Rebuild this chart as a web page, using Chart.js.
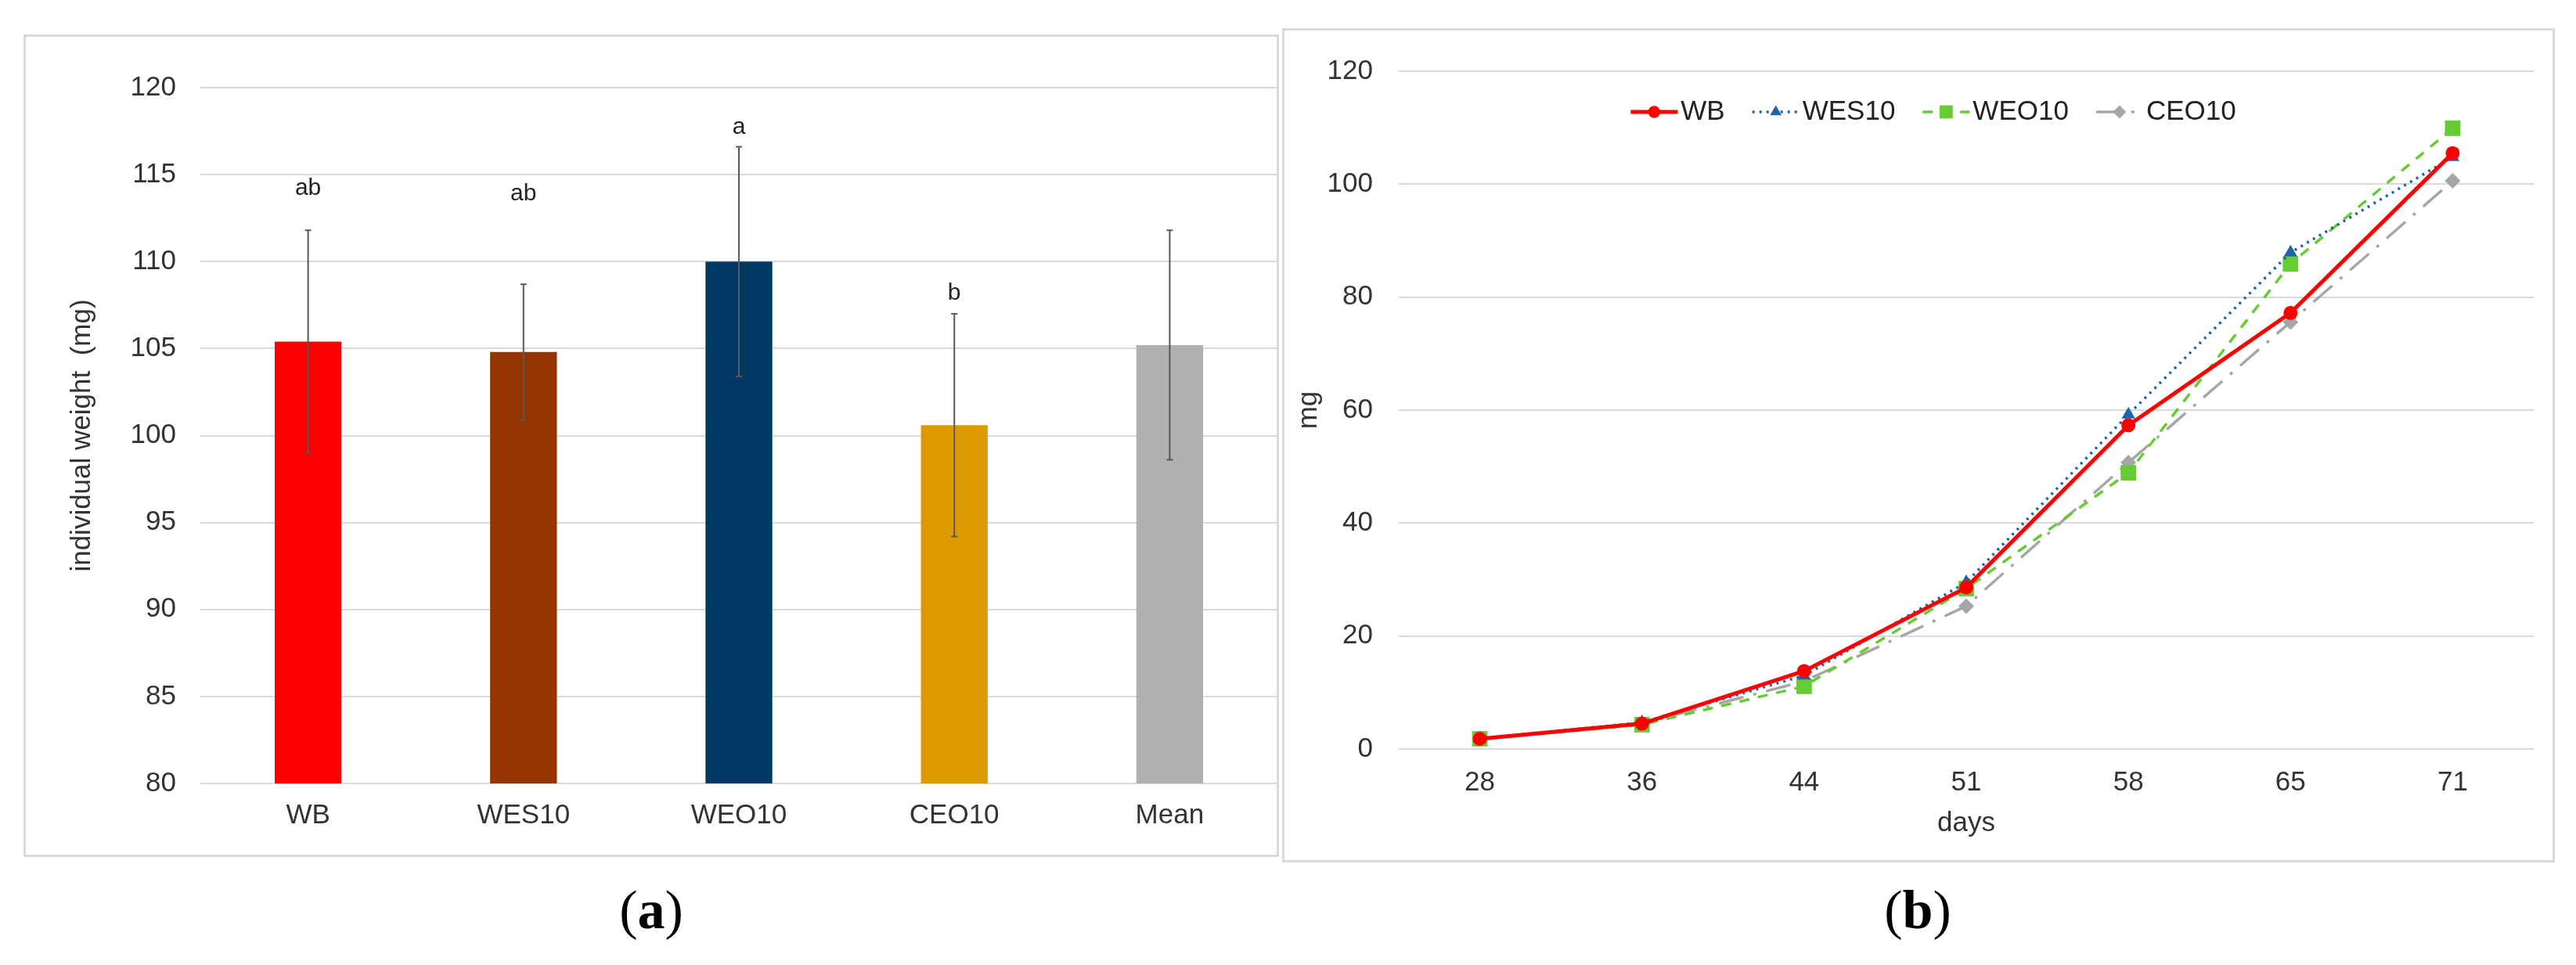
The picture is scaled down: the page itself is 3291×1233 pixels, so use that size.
<!DOCTYPE html>
<html>
<head>
<meta charset="utf-8">
<script src="https://cdn.jsdelivr.net/npm/chart.js@4.4.0/dist/chart.umd.min.js"></script>
<style>
html, body { margin:0; padding:0; background:#fff; }
body { width:3291px; height:1233px; position:relative; overflow:hidden; }
.frame { position:absolute; border:3px solid #d9d9d9; box-sizing:border-box; }
canvas { position:absolute; }
.cap { position:absolute; font-family:"Liberation Serif","Times New Roman",serif; font-size:70px; color:#000;
       transform:translate(-50%,-50%); white-space:nowrap; }
</style>
</head>
<body>
<div class="frame" style="left:30px;top:44px;width:1604px;height:1051px"></div>
<div class="frame" style="left:1638px;top:36px;width:1626px;height:1066px"></div>
<canvas id="barChart" style="left:31px;top:45px;width:1601px;height:1048px" width="1601" height="1048"></canvas>
<canvas id="lineChart" style="left:1640px;top:37px;width:1622px;height:1063px" width="1622" height="1063"></canvas>
<div class="cap" style="left:832px;top:1163px">(<b>a</b>)</div>
<div class="cap" style="left:2450px;top:1163px">(<b>b</b>)</div>

<script>
// panel (a): individual weight per diet
const groups = ['WB', 'WES10', 'WEO10', 'CEO10', 'Mean'];
const weight = [105.4, 104.8, 110.0, 100.6, 105.2];
const weightSd = [6.4, 3.9, 6.6, 6.4, 6.6];
const letters = ['ab', 'ab', 'a', 'b', ''];
const letterAt = [114.2, 113.9, 117.7, 108.2, null];
const barColors = ['#ff0000', '#943400', '#003964', '#dc9a00', '#b0b0b0'];

// panel (b): growth curves
const days = ['28', '36', '44', '51', '58', '65', '71'];
const wb    = [1.8, 4.5, 13.8, 28.6, 57.3, 77.2, 105.5];
const wes10 = [1.8, 4.7, 13.0, 29.5, 59.2, 87.9, 104.8];
const weo10 = [1.8, 4.3, 11.1, 28.4, 48.9, 85.9, 109.9];
const ceo10 = [1.8, 4.5, 12.0, 25.3, 50.7, 75.6, 100.6];

const FONT = '"Liberation Sans", Arial, sans-serif';
const TXT = '#333333';
Chart.defaults.font.family = FONT;
Chart.defaults.font.size = 35;
Chart.defaults.color = TXT;

// error bars + significance letters on top of the bars
const errorBars = {
  id: 'errorBars',
  afterDatasetsDraw(chart){
    const ctx = chart.ctx;
    const y = chart.scales.y;
    const meta = chart.getDatasetMeta(0);
    ctx.save();
    ctx.strokeStyle = '#595959';
    ctx.lineWidth = 2;
    meta.data.forEach((bar, i) => {
      const top = y.getPixelForValue(weight[i] + weightSd[i]);
      const bot = y.getPixelForValue(weight[i] - weightSd[i]);
      ctx.beginPath();
      ctx.moveTo(bar.x, top); ctx.lineTo(bar.x, bot);
      ctx.moveTo(bar.x - 4, top); ctx.lineTo(bar.x + 4, top);
      ctx.moveTo(bar.x - 4, bot); ctx.lineTo(bar.x + 4, bot);
      ctx.stroke();
    });
    ctx.fillStyle = '#222';
    ctx.font = '30px ' + FONT;
    ctx.textAlign = 'center';
    ctx.textBaseline = 'middle';
    meta.data.forEach((bar, i) => {
      if(letters[i]) ctx.fillText(letters[i], bar.x, y.getPixelForValue(letterAt[i]));
    });
    ctx.restore();
  }
};

new Chart(document.getElementById('barChart'), {
  type: 'bar',
  data: {
    labels: groups,
    datasets: [{ data: weight, backgroundColor: barColors, borderWidth: 0,
                 categoryPercentage: 1, barPercentage: 0.31 }]
  },
  options: {
    responsive: false, animation: false, devicePixelRatio: 1,
    layout: { padding: { top: 67, right: 0, bottom: 0, left: 0 } },
    plugins: { legend: { display: false }, tooltip: { enabled: false } },
    scales: {
      x: {
        grid: { display: false, drawTicks: false }, border: { display: false },
        ticks: { padding: 20 },
        afterFit(s){ s.height = 92; }
      },
      y: {
        min: 80, max: 120,
        ticks: { stepSize: 5, padding: 31 },
        grid: { color: '#d9d9d9', lineWidth: 2, drawTicks: false }, border: { display: false },
        title: { display: true, text: 'individual weight  (mg)', padding: { top: 53, bottom: 0 } },
        afterFit(s){ s.width = 225; }
      }
    }
  },
  plugins: [errorBars]
});

// legend drawn inside the plot area
const lineLegend = {
  id: 'lineLegend',
  afterDraw(chart){
    const ctx = chart.ctx;
    ctx.save();
    ctx.font = '35px ' + FONT;
    const lineLen = 60, gapText = 4, gapItem = 35;
    const items = chart.data.datasets.map(ds => ({ ds, w: ctx.measureText(ds.label).width }));
    const total = items.reduce((a, it) => a + lineLen + gapText + it.w, 0) + gapItem * (items.length - 1);
    let x = chart.width / 2 + 19 - total / 2;
    const yy = 106;
    items.forEach(it => {
      const ds = it.ds;
      ctx.strokeStyle = ds.borderColor;
      ctx.lineWidth = ds.borderWidth;
      ctx.setLineDash(ds.borderDash || []);
      ctx.beginPath(); ctx.moveTo(x, yy); ctx.lineTo(x + lineLen, yy); ctx.stroke();
      ctx.setLineDash([]);
      ctx.fillStyle = ds.borderColor;
      Chart.helpers.drawPoint(ctx, { pointStyle: ds.pointStyle, radius: ds.pointRadius * 0.85, borderWidth: 0, rotation: 0 },
                              x + lineLen / 2, yy);
      ctx.fillStyle = '#222';
      ctx.textBaseline = 'middle';
      ctx.fillText(ds.label, x + lineLen + gapText, yy);
      x += lineLen + gapText + it.w + gapItem;
    });
    ctx.restore();
  }
};

const lineSet = (label, data, color, width, dash, style, radius) => ({
  label, data, borderColor: color, backgroundColor: color, borderWidth: width, borderDash: dash,
  pointStyle: style, pointRadius: radius, pointBorderWidth: 0, pointBackgroundColor: color, tension: 0
});

new Chart(document.getElementById('lineChart'), {
  type: 'line',
  data: {
    labels: days,
    datasets: [
      lineSet('WB', wb, '#ff0000', 5, [], 'circle', 9),
      lineSet('WES10', wes10, '#1f64ab', 3.5, [3, 6], 'triangle', 10),
      lineSet('WEO10', weo10, '#66cc33', 3.5, [13, 11], 'rect', 14),
      lineSet('CEO10', ceo10, '#a6a6a6', 3.5, [32, 13, 4, 13], 'rectRot', 10)
    ]
  },
  options: {
    responsive: false, animation: false, devicePixelRatio: 1,
    layout: { padding: { top: 31, right: 25, bottom: 0, left: 0 } },
    plugins: { legend: { display: false }, tooltip: { enabled: false } },
    scales: {
      x: {
        offset: true,
        grid: { display: false, drawTicks: false }, border: { display: false },
        ticks: { padding: 22 },
        title: { display: true, text: 'days', padding: { top: 0, bottom: 27 } },
        afterFit(s){ s.height = 143; }
      },
      y: {
        min: 0, max: 120,
        ticks: { stepSize: 20, padding: 33 },
        grid: { color: '#d9d9d9', lineWidth: 2, drawTicks: false }, border: { display: false },
        title: { display: true, text: 'mg', padding: { top: 11, bottom: 0 } },
        afterFit(s){ s.width = 147; }
      }
    }
  },
  plugins: [lineLegend]
});
</script>
</body>
</html>
